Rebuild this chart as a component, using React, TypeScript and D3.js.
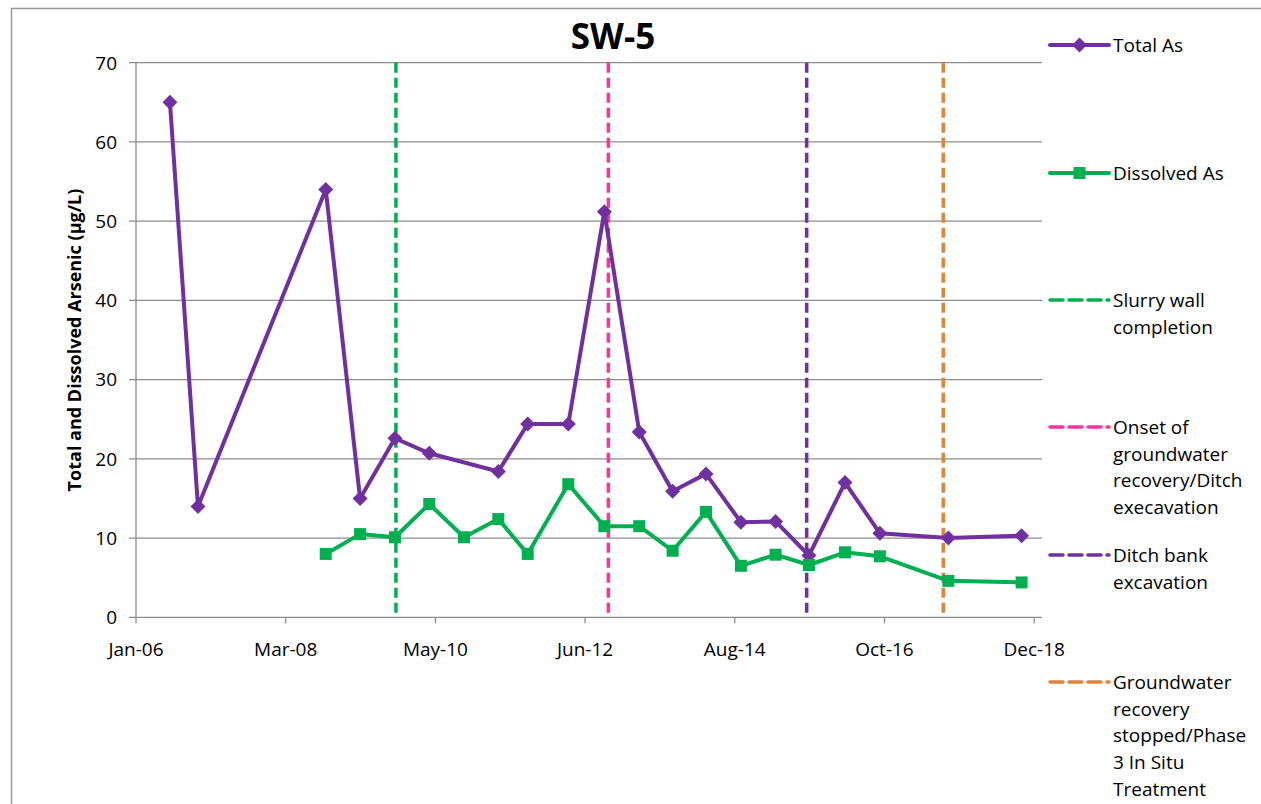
import React from "react";
import * as d3 from "d3";

const title = "SW-5";
const yAxisTitle = "Total and Dissolved Arsenic (µg/L)";

const totalDates = [
  "2006-07-13", "2006-12-07", "2008-10-07", "2009-04-05", "2009-10-05", "2010-04-03",
  "2011-03-31", "2011-09-01", "2012-04-01", "2012-10-07", "2013-04-08", "2013-09-30",
  "2014-03-24", "2014-09-23", "2015-03-24", "2015-09-15", "2016-03-22", "2016-09-21",
  "2017-09-15", "2018-10-04",
];
const totalValues = [
  65, 14, 54, 15, 22.6, 20.7, 18.4, 24.4, 24.4, 51.2, 23.4, 15.9, 18.1, 12, 12.1, 7.8,
  17, 10.6, 10, 10.3,
];

const dissolvedDates = [
  "2008-10-07", "2009-04-05", "2009-10-05", "2010-04-03", "2010-10-02", "2011-03-31",
  "2011-09-01", "2012-04-01", "2012-10-07", "2013-04-08", "2013-09-30", "2014-03-24",
  "2014-09-23", "2015-03-24", "2015-09-15", "2016-03-22", "2016-09-21", "2017-09-15",
  "2018-10-04",
];
const dissolvedValues = [
  8, 10.5, 10.1, 14.3, 10.1, 12.4, 8, 16.8, 11.5, 11.5, 8.4, 13.3, 6.5, 7.9, 6.6, 8.2,
  7.7, 4.6, 4.4,
];

const eventDates = ["2009-10-10", "2012-10-28", "2015-09-03", "2017-08-19"];
const eventColors = ["#00b050", "#ff3399", "#7030a0", "#e2833a"];
const eventLabels = [
  ["Slurry wall", "completion"],
  ["Onset of", "groundwater", "recovery/Ditch", "execavation"],
  ["Ditch bank", "excavation"],
  ["Groundwater", "recovery", "stopped/Phase", "3 In Situ", "Treatment"],
];

const xTickDates = [
  "2006-01-16", "2008-03-11", "2010-05-05", "2012-06-28", "2014-08-22", "2016-10-15", "2018-12-09",
];
const xDomain = ["2006-01-16", "2019-01-19"];
const yTicks = [0, 10, 20, 30, 40, 50, 60, 70];

const seriesNames = ["Total As", "Dissolved As"];
const seriesColors = ["#7030a0", "#00b050"];

const parse = d3.utcParse("%Y-%m-%d");
const fmt = d3.utcFormat("%b-%y");
const FONT = "'Open Sans', Lato, sans-serif";

export default function App() {
  const W = 1261, H = 804;
  const left = 136, right = 1042, top = 62.7, bottom = 617.3;
  const x = d3.scaleUtc().domain(xDomain.map((d) => parse(d)!)).range([left, right]);
  const y = d3.scaleLinear().domain([0, 70]).range([bottom, top]);

  const line = d3
    .line<[Date, number]>()
    .x((d) => x(d[0]))
    .y((d) => y(d[1]));

  const totalPts: [Date, number][] = totalDates.map((d, i) => [parse(d)!, totalValues[i]]);
  const dissPts: [Date, number][] = dissolvedDates.map((d, i) => [parse(d)!, dissolvedValues[i]]);

  const diamond = (cx: number, cy: number, r: number) =>
    `M${cx},${cy - r}L${cx + r},${cy}L${cx},${cy + r}L${cx - r},${cy}Z`;

  // legend layout
  const legX0 = 1050, legX1 = 1109, legText = 1113, lh = 26.7;
  const legendRows: { y: number; kind: string; color: string; lines: string[] }[] = [
    { y: 45, kind: "diamond", color: seriesColors[0], lines: [seriesNames[0]] },
    { y: 173, kind: "square", color: seriesColors[1], lines: [seriesNames[1]] },
    { y: 300, kind: "dash", color: eventColors[0], lines: eventLabels[0] },
    { y: 427, kind: "dash", color: eventColors[1], lines: eventLabels[1] },
    { y: 555, kind: "dash", color: eventColors[2], lines: eventLabels[2] },
    { y: 682, kind: "dash", color: eventColors[3], lines: eventLabels[3] },
  ];
  const fs = 19;

  return (
    <svg
      width={W}
      height={H}
      style={{ position: "absolute", left: 0, top: 0, background: "#fff" }}
      fontFamily={FONT}
    >
      <rect x={11.5} y={8.5} width={1400} height={1000} fill="#fff" stroke="#999" strokeWidth={1.5} />
      {/* gridlines */}
      {yTicks.map((t) => (
        <line key={"g" + t} x1={left - 7} x2={right} y1={y(t)} y2={y(t)} stroke="#8c8c8c" strokeWidth={1.3} />
      ))}
      {/* y axis */}
      <line x1={left} x2={left} y1={top} y2={bottom} stroke="#8c8c8c" strokeWidth={1.3} />
      {yTicks.map((t) => (
        <text key={"yl" + t} x={117} y={y(t)} dy="0.36em" textAnchor="end" fontSize={fs} fill="#000">
          {t}
        </text>
      ))}
      {/* x axis ticks */}
      {xTickDates.map((d) => {
        const px = x(parse(d)!);
        return (
          <g key={"xt" + d}>
            <line x1={px} x2={px} y1={bottom} y2={bottom + 6} stroke="#8c8c8c" strokeWidth={1.3} />
            <text x={px} y={656} textAnchor="middle" fontSize={fs} fill="#000">
              {fmt(parse(d)!)}
            </text>
          </g>
        );
      })}
      {/* event lines */}
      {eventDates.map((d, i) => {
        const px = x(parse(d)!);
        return (
          <line
            key={"ev" + d}
            x1={px}
            x2={px}
            y1={top}
            y2={bottom}
            stroke={eventColors[i]}
            strokeWidth={3.5}
            strokeDasharray="10 5"
          />
        );
      })}
      {/* series */}
      <path d={line(totalPts)!} fill="none" stroke={seriesColors[0]} strokeWidth={4} strokeLinejoin="round" />
      {totalPts.map((p, i) => (
        <path key={"tp" + i} d={diamond(x(p[0]), y(p[1]), 7.5)} fill={seriesColors[0]} />
      ))}
      <path d={line(dissPts)!} fill="none" stroke={seriesColors[1]} strokeWidth={4} strokeLinejoin="round" />
      {dissPts.map((p, i) => (
        <rect key={"dp" + i} x={x(p[0]) - 6} y={y(p[1]) - 6} width={12} height={12} fill={seriesColors[1]} />
      ))}
      {/* title */}
      <text x={613} y={49} textAnchor="middle" fontSize={35} fontWeight="bold" fill="#000">
        {title}
      </text>
      {/* y axis title */}
      <text
        transform={`translate(81,${(top + bottom) / 2}) rotate(-90)`}
        textAnchor="middle"
        fontSize={18}
        fontWeight="bold"
        fill="#000"
      >
        {yAxisTitle}
      </text>
      {/* legend */}
      {legendRows.map((r, i) => (
        <g key={"lg" + i}>
          {r.kind === "dash" ? (
            <line x1={legX0} x2={legX1} y1={r.y} y2={r.y} stroke={r.color} strokeWidth={3.5} strokeDasharray="13 6" strokeLinecap="round" />
          ) : (
            <line x1={legX0} x2={legX1} y1={r.y} y2={r.y} stroke={r.color} strokeWidth={4} strokeLinecap="round" />
          )}
          {r.kind === "diamond" && <path d={diamond((legX0 + legX1) / 2, r.y, 7.5)} fill={r.color} />}
          {r.kind === "square" && (
            <rect x={(legX0 + legX1) / 2 - 6} y={r.y - 6} width={12} height={12} fill={r.color} />
          )}
          {r.lines.map((t, j) => (
            <text key={j} x={legText} y={r.y + j * lh} dy="0.36em" fontSize={fs} fill="#000">
              {t}
            </text>
          ))}
        </g>
      ))}
    </svg>
  );
}
